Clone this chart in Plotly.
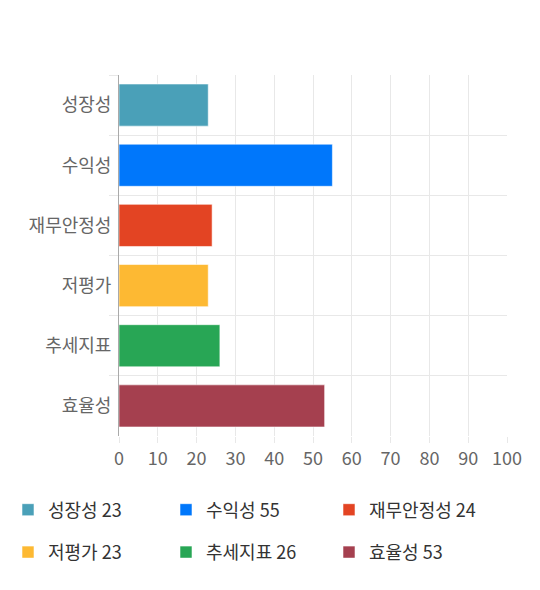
import plotly.graph_objects as go

categories = ["성장성", "수익성", "재무안정성", "저평가", "추세지표", "효율성"]
scores = [23, 55, 24, 23, 26, 53]
colors = ["#4aa0b8", "#0077fb", "#e34423", "#fdb933", "#28a655", "#a5404f"]

font = "Noto Sans CJK KR, Noto Sans, sans-serif"
W, H = 540, 590
OFF = 8  # page body margin

legend_names = ["legend", "legend2", "legend3"]

fig = go.Figure()
for i, (cat, val, col) in enumerate(zip(categories, scores, colors)):
    fig.add_trace(go.Bar(
        x=[val], y=[cat], orientation="h",
        name=f"{cat} {val}",
        marker=dict(color=col, line=dict(color="rgba(255,255,255,0.55)", width=1)),
        legend=legend_names[i % 3], legendgroup=cat,
        hoverinfo="x+y",
    ))

# one legend per column (window pixels of the square's left edge)
leg_x = [22, 180, 343]
legends = {}
for name, lx in zip(legend_names, leg_x):
    legends[name] = dict(
        orientation="v", x=(lx - 22) / W, xref="container", xanchor="left",
        y=1 - ((510 + 552) / 2 - OFF) / H, yref="container", yanchor="middle",
        tracegroupgap=16,
        font=dict(size=18, color="#333333"), bgcolor="rgba(0,0,0,0)",
        itemclick=False, itemdoubleclick=False,
    )

fig.update_layout(
    width=W, height=H,
    margin=dict(l=119 - OFF, r=W - (507 - OFF), t=75 - OFF, b=H - (436 - OFF),
                autoexpand=False),
    paper_bgcolor="white", plot_bgcolor="white",
    barmode="relative", bargap=0.3,
    font=dict(family=font, color="#666666", size=18),
    xaxis=dict(
        range=[0, 100], dtick=10, showgrid=True, gridcolor="#e8e8e8",
        ticks="outside", ticklen=6, tickcolor="#e8e8e8",
        zeroline=False, showline=False, fixedrange=True,
        tickfont=dict(size=18, color="#666666"),
    ),
    yaxis=dict(
        type="category", categoryorder="array", categoryarray=categories,
        autorange="reversed", tickson="boundaries", showgrid=True,
        gridcolor="#e8e8e8", ticks="outside", ticklen=9, tickcolor="#e8e8e8",
        showline=True, linecolor="#aaaaaa", linewidth=1, ticklabelstandoff=3,
        tickfont=dict(size=18, color="#666666"), fixedrange=True,
    ),
    **legends,
)

fig.write_html("out.html")
